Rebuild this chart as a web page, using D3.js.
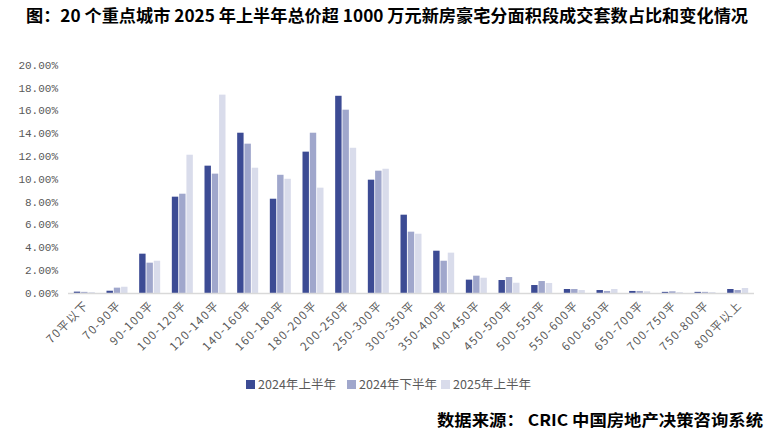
<!DOCTYPE html>
<html><head><meta charset="utf-8">
<script src="https://cdn.jsdelivr.net/npm/d3@7"></script>
<style>body{margin:0;background:#fff}svg{display:block}</style>
</head><body>
<svg id="c" width="774" height="435"></svg>
<script>
const categories = ["70平以下","70-90平","90-100平","100-120平","120-140平","140-160平","160-180平","180-200平","200-250平","250-300平","300-350平","350-400平","400-450平","450-500平","500-550平","550-600平","600-650平","650-700平","700-750平","750-800平","800平以上"];
const seriesNames = ["2024年上半年","2024年下半年","2025年上半年"];
const h1_2024 = [0.12,0.20,3.45,8.45,11.17,14.06,8.27,12.40,17.30,9.94,6.87,3.71,1.17,1.14,0.70,0.35,0.26,0.18,0.10,0.10,0.35];
const h2_2024 = [0.10,0.47,2.66,8.71,10.47,13.10,10.37,14.06,16.08,10.73,5.38,2.83,1.52,1.40,1.05,0.35,0.18,0.18,0.15,0.10,0.26];
const h1_2025 = [0.08,0.55,2.83,12.13,17.40,10.99,10.02,9.24,12.74,10.90,5.20,3.54,1.34,0.90,0.88,0.26,0.35,0.15,0.08,0.08,0.44];
const yTicks = [0,2,4,6,8,10,12,14,16,18,20];
const colors = ["#3C4B94","#A0A7CC","#D9DCEB"];
const seriesValues = [h1_2024,h2_2024,h1_2025];

const svg = d3.select("#c");
const x = d3.scaleBand().domain(categories).range([68,754]).padding(0);
const x1 = d3.scaleBand().domain(seriesNames).range([0,21]).paddingInner(0.12);
const y = d3.scaleLinear().domain([0,20]).range([293,65]);

// title
svg.append("text").attr("x",26).attr("y",22).attr("textLength",722).attr("lengthAdjust","spacingAndGlyphs")
  .style("font-family","'Noto Sans CJK SC','DejaVu Serif',serif").style("font-weight","bold").style("font-size","16.5px").attr("fill","#000")
  .text("图：20 个重点城市 2025 年上半年总价超 1000 万元新房豪宅分面积段成交套数占比和变化情况");

// y labels
svg.append("g").selectAll("text").data(yTicks).join("text")
  .attr("x",58).attr("y",d=>y(d)).attr("dy","0.35em").attr("text-anchor","end")
  .style("font-family","'Liberation Mono',monospace").style("font-size","11px").attr("fill","#595959")
  .text(d=>d.toFixed(2)+"%");

// bars
const g = svg.append("g");
seriesValues.forEach((vals,si)=>{
  g.selectAll(null).data(categories).join("rect")
    .attr("x",(c)=>x(c)+(x.bandwidth()-21)/2+x1(seriesNames[si]))
    .attr("width",x1.bandwidth())
    .attr("y",(c,i)=>y(vals[i]))
    .attr("height",(c,i)=>y(0)-y(vals[i]))
    .attr("fill",colors[si]);
});

// x axis line
svg.append("line").attr("x1",68).attr("x2",754).attr("y1",293.5).attr("y2",293.5).attr("stroke","#D9D9D9").attr("stroke-width",1.3);

// x labels
svg.append("g").selectAll("text").data(categories).join("text")
  .attr("transform",d=>`translate(${x(d)+x.bandwidth()/2+5},${306}) rotate(-45)`)
  .attr("text-anchor","end")
  .style("font-family","'Noto Sans CJK SC',sans-serif").style("font-size","11.5px").style("letter-spacing","1.3px").attr("fill","#595959")
  .text(d=>d);

// legend
const lx = [246,347,441];
seriesNames.forEach((s,i)=>{
  svg.append("rect").attr("x",lx[i]).attr("y",380).attr("width",9).attr("height",9).attr("fill",colors[i]);
  svg.append("text").attr("x",lx[i]+12).attr("y",384.5).attr("dy","0.35em")
    .attr("textLength",78).attr("lengthAdjust","spacingAndGlyphs")
    .style("font-family","'Noto Sans CJK SC',sans-serif").style("font-size","12px").attr("fill","#595959").text(s);
});

// source
svg.append("text").attr("x",437).attr("y",426).attr("textLength",326).attr("lengthAdjust","spacingAndGlyphs")
  .style("font-family","'Noto Sans CJK SC',serif").style("font-weight","bold").style("font-size","16px").attr("fill","#000")
  .text("数据来源：  CRIC 中国房地产决策咨询系统");
</script>
</body></html>
